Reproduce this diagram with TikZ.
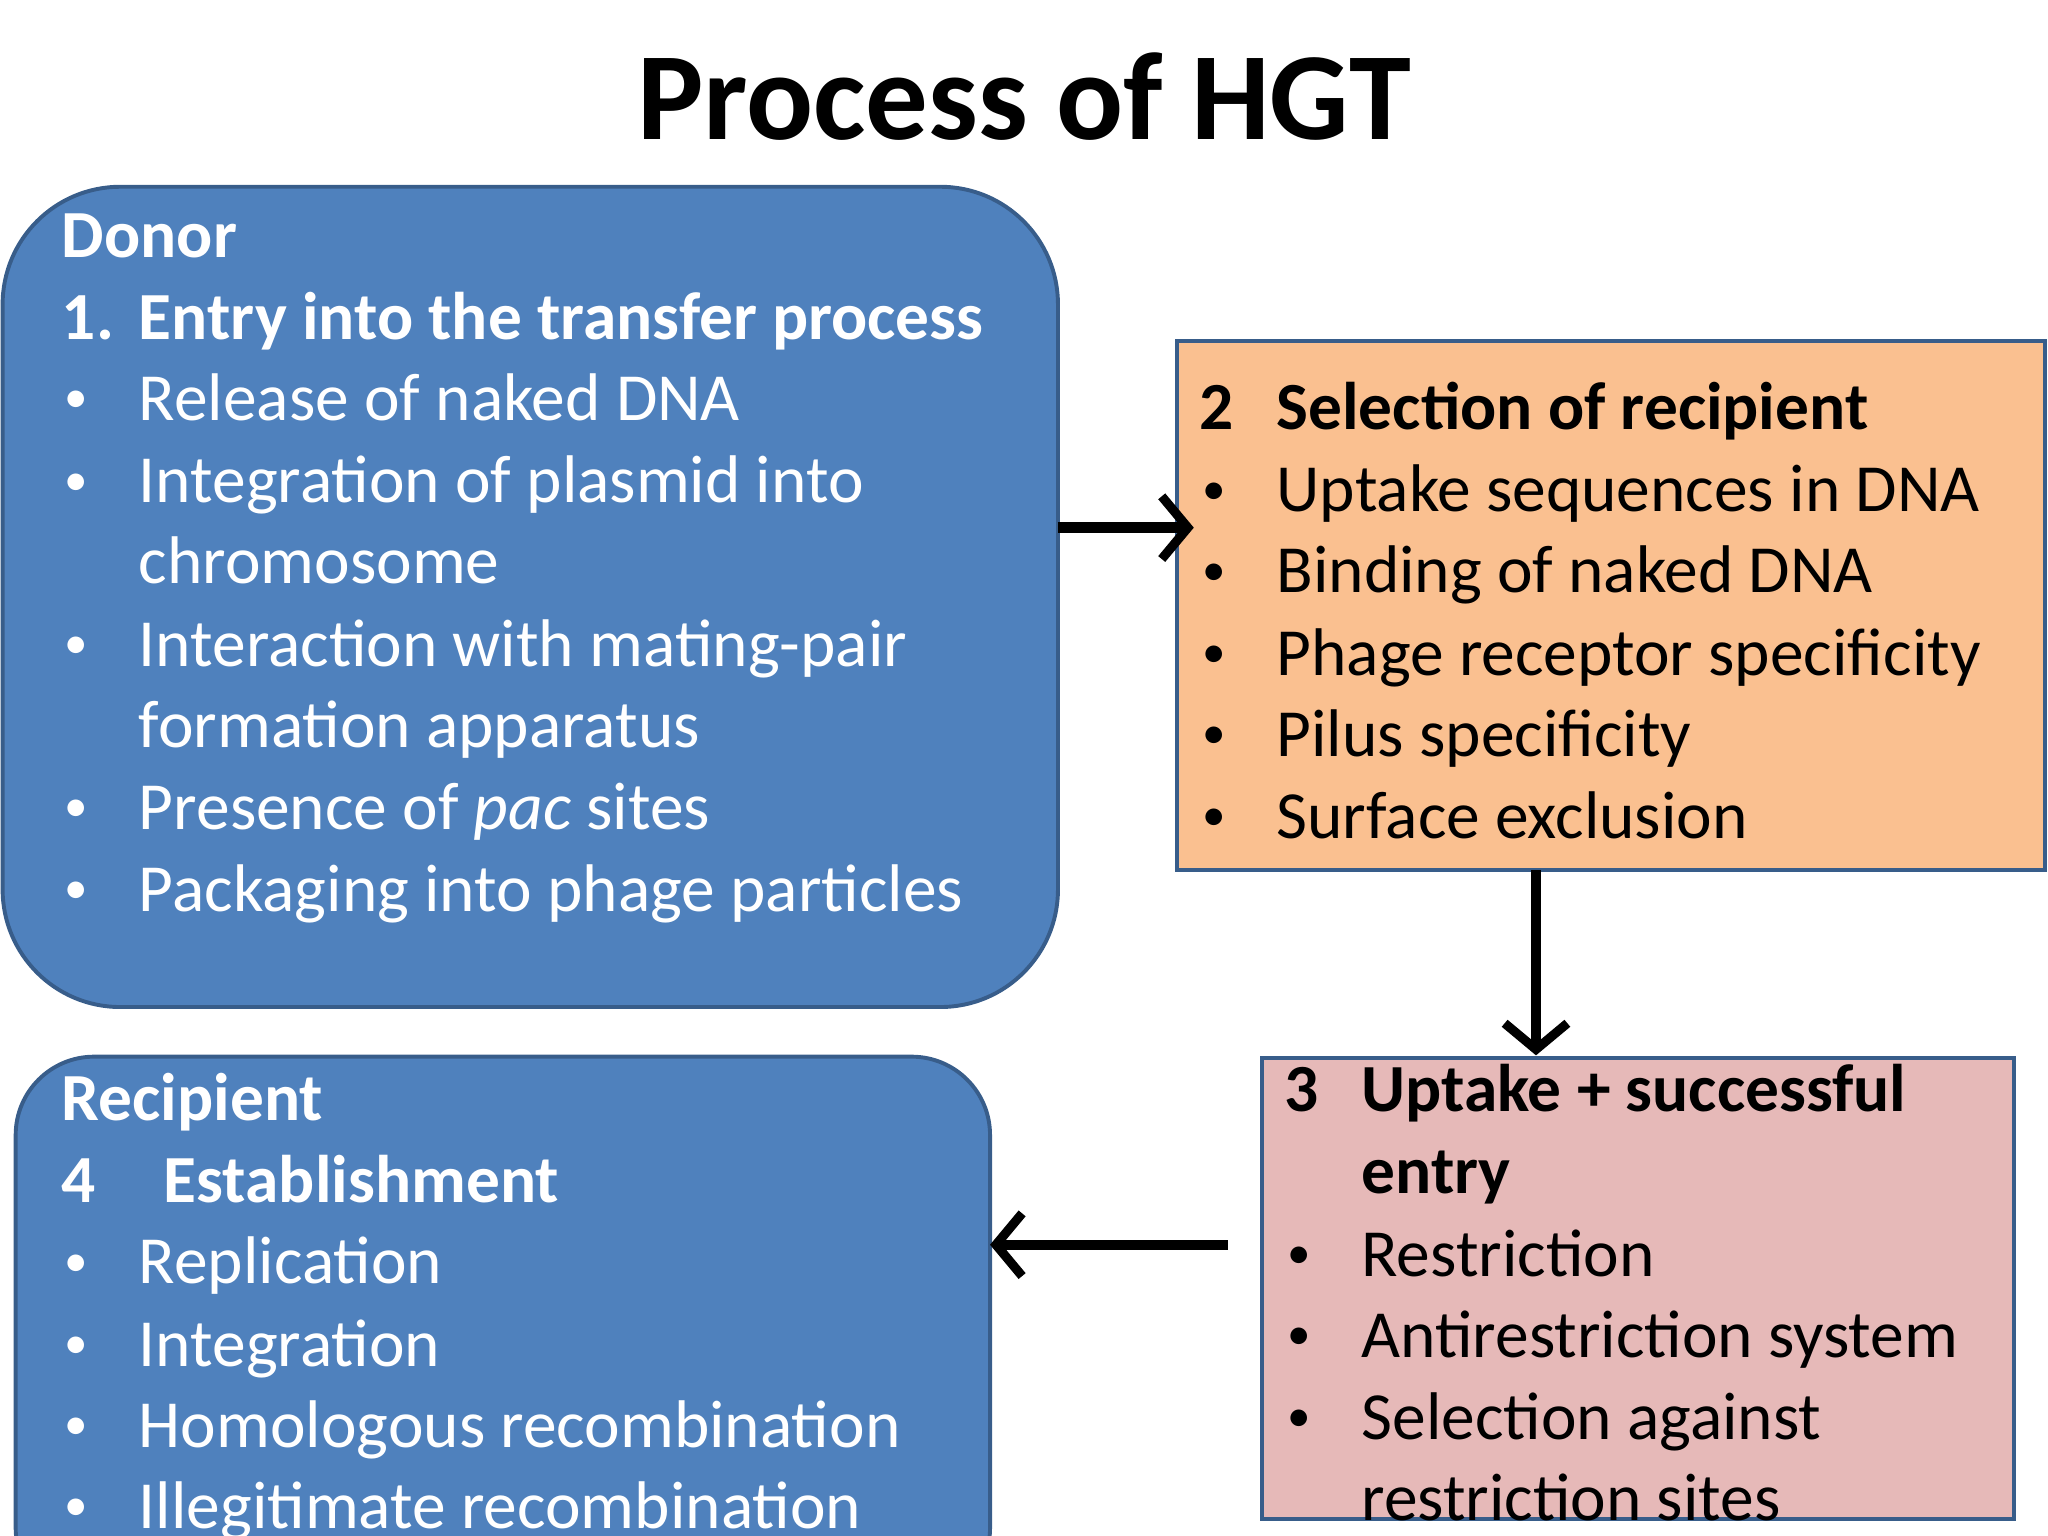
\documentclass[tikz,border=0pt]{standalone}
\usepackage{fontspec}
\setmainfont{Carlito}
\usetikzlibrary{arrows.meta}
\definecolor{blu}{HTML}{4F81BD}
\definecolor{bord}{HTML}{385D8A}
\definecolor{ora}{HTML}{FAC090}
\definecolor{pnk}{HTML}{E6B9B8}
\newcommand{\bul}{{\fontsize{18}{20}\selectfont •}}
\begin{document}
\begin{tikzpicture}[x=0.5pt,y=-0.5pt,
 t/.style={anchor=base west,inner sep=0pt,font=\fontsize{25.8}{30}\selectfont},
 w/.style={t,text=white},
 bf/.style={font=\bfseries\fontsize{25.8}{30}\selectfont},
 box/.style={draw=bord,line width=1.5pt},
 arr/.style={-{Straight Barb[length=10pt,width=24pt,line width=3.5pt]}}]
\useasboundingbox (0,0) rectangle (1568,1176);
\clip (0,0) rectangle (1568,1176);
\node[anchor=base,inner sep=0pt,font=\bfseries\fontsize{47.8}{50}\selectfont] (title) at (784,107) {Process of HGT};
% boxes
\draw[box,fill=blu,rounded corners=45pt] (2,143) rectangle (810,771);
\node[inner sep=0pt] (donor) at (406,457) {};
\draw[box,fill=ora] (901,261) rectangle (1566,666);
\node[inner sep=0pt] (sel) at (1233,463) {};
\draw[box,fill=pnk] (966,810) rectangle (1542,1163);
\node[inner sep=0pt] (upt) at (1254,986) {};
\draw[box,fill=blu,rounded corners=30pt] (12,809) rectangle (758,1230);
\node[inner sep=0pt] (rec) at (385,1000) {};
% arrows
\coordinate (a1s) at (810,404); \coordinate (a1e) at (914,404);
\draw[arr,line width=4pt] (a1s) -- (a1e);
\coordinate (a2s) at (1176,666); \coordinate (a2e) at (1176,808);
\draw[arr,line width=4pt] (a2s) -- (a2e);
\coordinate (a3s) at (940,953); \coordinate (a3e) at (758,953);
\draw[arr,line width=4pt] (a3s) -- (a3e);
% donor text
\node[w,bf] (d0) at (47,197) {Donor};
\node[w,bf] (d1n) at (47,260) {1.};
\node[w,bf] (d1) at (106,260) {Entry into the transfer process};
\node[w] (db1) at (49,316) {\bul}; \node[w] (d2) at (106,322) {Release of naked DNA};
\node[w] (db2) at (49,379) {\bul}; \node[w] (d3) at (106,385) {Integration of plasmid into};
\node[w] (d4) at (106,447) {chromosome};
\node[w] (db3) at (49,504) {\bul}; \node[w] (d5) at (106,510) {Interaction with mating-pair};
\node[w] (d6) at (106,572) {formation apparatus};
\node[w] (db4) at (49,629) {\bul}; \node[w] (d7) at (106,635) {Presence of \textit{pac} sites};
\node[w] (db5) at (49,692) {\bul}; \node[w] (d8) at (106,698) {Packaging into phage particles};
% selection text
\node[t,bf] (s0n) at (918,329) {2};
\node[t,bf] (s0) at (977,329) {Selection of recipient};
\node[t] (sb1) at (920,386) {\bul}; \node[t] (s1) at (977,392) {Uptake sequences in DNA};
\node[t] (sb2) at (920,448) {\bul}; \node[t] (s2) at (977,454) {Binding of naked DNA};
\node[t] (sb3) at (920,511) {\bul}; \node[t] (s3) at (977,517) {Phage receptor specificity};
\node[t] (sb4) at (920,573) {\bul}; \node[t] (s4) at (977,579) {Pilus specificity};
\node[t] (sb5) at (920,636) {\bul}; \node[t] (s5) at (977,642) {Surface exclusion};
% uptake text
\node[t,bf] (u0n) at (983,851) {3};
\node[t,bf] (u0) at (1042,851) {Uptake + successful};
\node[t,bf] (u1) at (1042,914) {entry};
\node[t] (ub1) at (985,971) {\bul}; \node[t] (u2) at (1042,977) {Restriction};
\node[t] (ub2) at (985,1033) {\bul}; \node[t] (u3) at (1042,1039) {Antirestriction system};
\node[t] (ub3) at (985,1096) {\bul}; \node[t] (u4) at (1042,1102) {Selection against};
\node[t] (u5) at (1042,1164) {restriction sites};
% recipient text
\node[w,bf] (r0) at (47,858) {Recipient};
\node[w,bf] (r1n) at (47,921) {4};
\node[w,bf] (r1) at (125,921) {Establishment};
\node[w] (rb1) at (49,977) {\bul}; \node[w] (r2) at (106,983) {Replication};
\node[w] (rb2) at (49,1040) {\bul}; \node[w] (r3) at (106,1046) {Integration};
\node[w] (rb3) at (49,1102) {\bul}; \node[w] (r4) at (106,1108) {Homologous recombination};
\node[w] (rb4) at (49,1164) {\bul}; \node[w] (r5) at (106,1170) {Illegitimate recombination};
\end{tikzpicture}
\end{document}
